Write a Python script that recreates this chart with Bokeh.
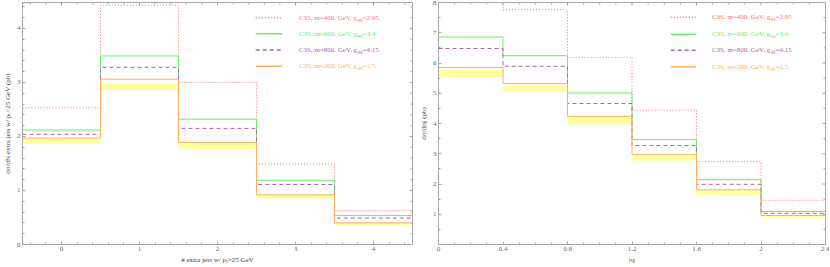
import numpy as np
from bokeh.plotting import figure
from bokeh.layouts import row
from bokeh.models import FixedTicker, CustomJSTickFormatter, Range1d
from bokeh.core.properties import value
from bokeh.embed import file_html
from bokeh.resources import INLINE

# ---------------- data ----------------
# left panel: number of extra jets
njet_centers = [0, 1, 2, 3, 4]
njet_c3s_400 = [2.53, 4.43, 3.00, 1.49, 0.63]
njet_c3s_600 = [2.12, 3.49, 2.32, 1.19, 0.535]
njet_c3s_800 = [2.04, 3.28, 2.15, 1.11, 0.49]
njet_c1s_200 = [1.97, 3.06, 1.89, 0.92, 0.40]
njet_band_hi = [1.96, 2.98, 1.86, 0.92, 0.40]
njet_band_lo = [1.88, 2.86, 1.77, 0.85, 0.36]
njet_xticks = [0, 1, 2, 3, 4]
njet_yticks = [0, 1, 2, 3, 4]

# right panel: |eta|
eta_edges = [0.0, 0.4, 0.8, 1.2, 1.6, 2.0, 2.4]
eta_c3s_400 = [8.7, 7.76, 6.19, 4.44, 2.74, 1.46]
eta_c3s_600 = [6.86, 6.24, 5.01, 3.47, 2.14, 1.09]
eta_c3s_800 = [6.48, 5.89, 4.66, 3.27, 1.99, 1.03]
eta_c1s_200 = [5.85, 5.32, 4.23, 2.97, 1.81, 0.96]
eta_band_hi = [5.77, 5.27, 4.19, 2.94, 1.79, 0.95]
eta_band_lo = [5.54, 5.04, 3.97, 2.77, 1.62, 0.87]
eta_xticks = [0, 0.4, 0.8, 1.2, 1.6, 2.0, 2.4]
eta_yticks = [1, 2, 3, 4, 5, 6, 7, 8]

series_names = ["C3S, m=400. GeV, g", "C3S, m=600. GeV, g", "C3S, m=800. GeV, g", "C3S, m=200. GeV, g"]
series_sub = ["gg", "gg", "gg", "gg"]
series_tail = ["=2.95", "=3.4", "=4.15", "=1.5"]

# ---------------- styles ----------------
FONT = "Liberation Serif"
colors = ["#ff7070", "#66f066", "#b060b0", "#ffb060"]
dashes = ["1 2", "solid", "4 3", "solid"]
widths = [1.0, 1.0, 1.0, 1.0]
band_color = "#ffffa0"
frame_col = "#a8a8a8"


def style(p, xt, xminor, yt, yminor, xfmt=None):
    p.outline_line_color = frame_col
    p.xgrid.visible = False
    p.ygrid.visible = False
    for ax in p.xaxis + p.yaxis:
        ax.axis_line_color = frame_col
        ax.major_tick_line_color = frame_col
        ax.minor_tick_line_color = frame_col
        ax.major_tick_in = 3
        ax.major_tick_out = 0
        ax.minor_tick_in = 2
        ax.minor_tick_out = 0
        ax.major_label_text_font = FONT
        ax.major_label_text_font_size = "7px"
        ax.major_label_text_color = "#666666"
        ax.major_label_standoff = 2
        ax.axis_label_text_font = FONT
        ax.axis_label_text_font_size = "7px"
        ax.axis_label_text_font_style = "normal"
        ax.axis_label_text_color = "#444444"
        ax.axis_label_standoff = 2
    p.xaxis.ticker = FixedTicker(ticks=xt, minor_ticks=xminor)
    p.yaxis.ticker = FixedTicker(ticks=yt, minor_ticks=yminor)
    if xfmt is not None:
        p.xaxis.formatter = xfmt


def mirror_ticks(p, xr, yr, xt, xminor, yt, yminor, fw, fh):
    # tick marks on the top and right frame edges
    dy_maj = 3.0 / fh * (yr[1] - yr[0])
    dy_min = 2.0 / fh * (yr[1] - yr[0])
    dx_maj = 3.0 / fw * (xr[1] - xr[0])
    dx_min = 2.0 / fw * (xr[1] - xr[0])
    xs = list(xt) + list(xminor)
    lx = [dy_maj] * len(xt) + [dy_min] * len(xminor)
    p.segment(x0=xs, y0=[yr[1]] * len(xs), x1=xs, y1=[yr[1] - l for l in lx],
              line_color=frame_col, line_width=1)
    ys = list(yt) + list(yminor)
    ly = [dx_maj] * len(yt) + [dx_min] * len(yminor)
    p.segment(x0=[xr[1]] * len(ys), y0=ys, x1=[xr[1] - l for l in ly], y1=ys,
              line_color=frame_col, line_width=1)


def draw_hist(p, edges, series, band_lo, band_hi):
    p.quad(left=edges[:-1], right=edges[1:], bottom=band_lo, top=band_hi,
           fill_color=band_color, fill_alpha=1.0, line_color=None)
    for vals, c, d, w in zip(series, colors, dashes, widths):
        p.step(x=edges, y=list(vals) + [vals[-1]], mode="after",
               line_color=c, line_dash=d, line_width=w)


def draw_legend(p, xr, yr, line_fx, anchor_fx, row_fy):
    x0 = xr[0] + line_fx[0] * (xr[1] - xr[0])
    x1 = xr[0] + line_fx[1] * (xr[1] - xr[0])
    xa = xr[0] + anchor_fx * (xr[1] - xr[0])
    for i, (c, d, w) in enumerate(zip(colors, dashes, widths)):
        yy = yr[0] + row_fy[i] * (yr[1] - yr[0])
        p.segment(x0=[x0], y0=[yy], x1=[x1], y1=[yy], line_color=c, line_dash=d, line_width=w + 0.5)
        p.text(x=[xa], y=[yy], text=[series_names[i]], text_font=value(FONT), text_font_size="7px",
               text_color=c, text_align="right", text_baseline="middle")
        p.text(x=[xa], y=[yy], text=[series_sub[i]], text_font=value(FONT), text_font_size="5px",
               text_color=c, text_align="left", text_baseline="middle", x_offset=0.3, y_offset=1.5)
        p.text(x=[xa], y=[yy], text=[series_tail[i]], text_font=value(FONT), text_font_size="7px",
               text_color=c, text_align="left", text_baseline="middle", x_offset=5.5)


H = 266

# ---------------- left panel ----------------
xr1 = (-0.5, 4.5)
yr1 = (0, 4.48)
xminor1 = [round(v, 2) for v in np.arange(-0.4, 4.5, 0.2) if abs(v - round(v)) > 1e-6]
yminor1 = [round(v, 2) for v in np.arange(0.2, 4.48, 0.2) if abs(v - round(v)) > 1e-6]
p1 = figure(width=416, height=H, output_backend="svg", toolbar_location=None,
            x_range=Range1d(*xr1), y_range=Range1d(*yr1),
            min_border_left=17, min_border_right=4, min_border_top=2, min_border_bottom=21)
style(p1, njet_xticks, xminor1, njet_yticks, yminor1)
p1.xaxis.axis_label = "# extra jets w/ pₜ>25 GeV"
p1.yaxis.axis_label = "dσ/dN extra jets w/ pₜ>25 GeV (pb)"
edges1 = [c - 0.5 for c in njet_centers] + [njet_centers[-1] + 0.5]
draw_hist(p1, edges1, [njet_c3s_400, njet_c3s_600, njet_c3s_800, njet_c1s_200],
          njet_band_lo, njet_band_hi)
mirror_ticks(p1, xr1, yr1, njet_xticks, xminor1, njet_yticks, yminor1, 395, 243)
draw_legend(p1, xr1, yr1, (0.598, 0.666), 0.858, [0.937, 0.871, 0.804, 0.737])

# ---------------- right panel ----------------
xr2 = (0.0, 2.4)
yr2 = (0, 8)
xminor2 = [round(v, 2) for v in np.arange(0.1, 2.4, 0.1) if abs(v / 0.4 - round(v / 0.4)) > 1e-6]
yminor2 = [round(v, 2) for v in np.arange(0.5, 8, 1.0)]
p2 = figure(width=413, height=H, output_backend="svg", toolbar_location=None,
            x_range=Range1d(*xr2), y_range=Range1d(*yr2),
            min_border_left=19, min_border_right=4, min_border_top=2, min_border_bottom=21)
style(p2, eta_xticks, xminor2, eta_yticks, yminor2,
      xfmt=CustomJSTickFormatter(code="return String(Math.round(tick*10)/10);"))
p2.xaxis.axis_label = "|η|"
p2.yaxis.axis_label = "dσ/d|η| (pb)"
draw_hist(p2, eta_edges, [eta_c3s_400, eta_c3s_600, eta_c3s_800, eta_c1s_200],
          eta_band_lo, eta_band_hi)
mirror_ticks(p2, xr2, yr2, eta_xticks, xminor2, eta_yticks, yminor2, 390, 243)
draw_legend(p2, xr2, yr2, (0.60, 0.666), 0.857, [0.939, 0.869, 0.803, 0.734])

layout = row(p1, p2)
open("out.html", "w").write(file_html(layout, INLINE))
